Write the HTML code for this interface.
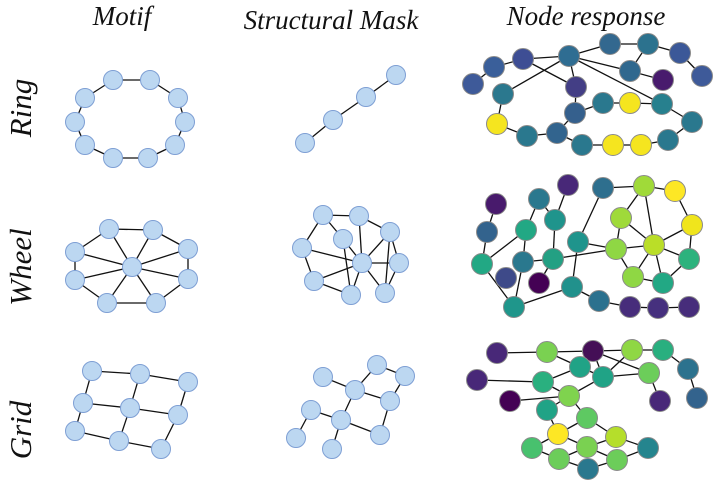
<!DOCTYPE html>
<html><head><meta charset="utf-8"><style>
html,body{margin:0;padding:0;background:#fff;width:720px;height:485px;overflow:hidden}
text{font-family:"Liberation Serif",serif;font-style:italic;fill:#111}
</style></head><body>
<svg id="s" width="720" height="485" viewBox="0 0 720 485" xmlns="http://www.w3.org/2000/svg">
<text x="122" y="25" font-size="27" text-anchor="middle">Motif</text>
<text x="331" y="29" font-size="27" text-anchor="middle">Structural Mask</text>
<text x="586" y="25" font-size="27" text-anchor="middle">Node response</text>
<text transform="translate(31,108) rotate(-90)" font-size="31" text-anchor="middle">Ring</text>
<text transform="translate(31,267) rotate(-90)" font-size="31" text-anchor="middle">Wheel</text>
<text transform="translate(31,430) rotate(-90)" font-size="31" text-anchor="middle">Grid</text>
<g id="e" stroke="#111" stroke-width="1.3"></g>
<g id="n"></g>
</svg>
<script>
var E=document.getElementById('e'),N=document.getElementById('n'),ns='http://www.w3.org/2000/svg';
var LB='#bcd7f1',LS='#7e9fd4';
function g(nodes,edges,r,stroke){
 edges.forEach(function(p){var a=nodes[p[0]],b=nodes[p[1]];var l=document.createElementNS(ns,'line');
 l.setAttribute('x1',a[0]);l.setAttribute('y1',a[1]);l.setAttribute('x2',b[0]);l.setAttribute('y2',b[1]);E.appendChild(l);});
 Object.keys(nodes).forEach(function(k){var a=nodes[k];var c=document.createElementNS(ns,'circle');
 c.setAttribute('cx',a[0]);c.setAttribute('cy',a[1]);c.setAttribute('r',r);c.setAttribute('fill',a[2]||LB);
 c.setAttribute('stroke',stroke);c.setAttribute('stroke-width','1');N.appendChild(c);});
}
function ring(n){var e=[];for(var i=0;i<n;i++)e.push([i,(i+1)%n]);return e;}
g([[113,80],[150,80],[178,98],[185,122],[175,145],[148,158],[113,158],[85,145],[75,122],[85,98]],ring(10),9.5,LS);
g([[305,143],[333,120],[366,97],[396,75]],[[0,1],[1,2],[2,3]],9.5,LS);
var w=[[109,229],[153,230],[188,249],[188,279],[156,303],[107,303],[75,280],[75,252],[132,267]];
var we=ring(8);for(var i=0;i<8;i++)we.push([i,8]);g(w,we,9.5,LS);
g([[92,371],[140,374],[188,382],[83,403],[130,408],[178,415],[75,431],[119,441],[161,449]],
 [[0,1],[1,2],[3,4],[4,5],[6,7],[7,8],[0,3],[3,6],[1,4],[4,7],[2,5],[5,8]],9.5,LS);
g([[323,215],[359,216],[390,232],[399,263],[385,293],[351,295],[314,281],[302,248],[343,239],[362,263]],
 [[0,1],[1,2],[0,8],[0,7],[7,6],[6,5],[7,9],[6,9],[1,9],[2,9],[2,3],[2,4],[3,9],[3,4],[4,9],[5,9],[8,5],[8,9]],9.5,LS);
g([[323,377],[377,365],[405,376],[355,390],[390,401],[311,410],[341,420],[380,435],[296,438],[332,449]],
 [[0,3],[3,1],[1,2],[2,4],[3,4],[3,6],[4,7],[6,7],[5,6],[5,8],[6,9]],9.5,LS);
var NS='#8a8a8a';
var Y='#f5e51f';
var rr={a:[473,84,'#3e5a99'],b:[494,67,'#3a5f9a'],c:[523,59,'#3e4e94'],d:[569,56,'#2f6d92'],e:[610,44,'#33688f'],f:[648,44,'#2c728e'],g:[680,53,'#3b5898'],h:[702,76,'#3e5a99'],i:[630,71,'#30688e'],j:[663,80,'#481b6d'],k:[576,87,'#433e85'],l:[503,94,'#2b788e'],m:[497,124,Y],n:[527,136,'#2a788e'],o:[557,133,'#32648e'],p:[575,113,'#35608d'],q:[603,103,'#2a788e'],r:[630,103,Y],s:[662,104,'#27808e'],t:[692,122,'#2a788e'],u:[668,140,'#2a788e'],v:[641,145,Y],w:[613,145,Y],x:[582,145,'#2a788e']};
function pe(s){return s.split(' ').map(function(p){return p.split('-');});}
g(rr,pe('a-b b-c c-d d-e e-f f-g g-h f-i i-j d-i d-k c-k d-l d-s k-p l-m m-n n-o o-p o-x p-q q-r r-s s-t t-u u-v v-w w-x'),10.5,NS);
var wr={A:[496,204,'#481a6c'],B:[487,232,'#33638d'],C:[482,264,'#22a884'],D:[526,230,'#22a884'],E:[523,262,'#2a788e'],F:[506,278,'#3e4a89'],G:[539,199,'#2a788e'],H:[568,185,'#482878'],I:[555,220,'#1f948c'],J:[553,259,'#23a083'],K:[539,283,'#440154'],L:[578,242,'#1f948c'],M:[603,188,'#2e6f8e'],N:[572,287,'#21918c'],O:[514,307,'#1f968b'],P:[599,301,'#2c718e'],Q:[630,307,'#472d7b'],R:[658,308,'#46307e'],S:[689,307,'#472d7b'],T:[644,186,'#a0da39'],U:[675,191,'#fde725'],V:[621,218,'#9fda3a'],W:[692,225,'#f0e51c'],X:[654,245,'#bade28'],Yy:[616,249,'#8fd744'],Z:[689,259,'#2db27d'],AA:[633,277,'#8fd744'],AB:[663,283,'#22a884']};
g(wr,pe('A-B B-C C-D C-O D-G D-E E-O E-J G-I H-I I-J J-K J-Yy L-Yy L-N L-M N-O N-P P-Q Q-R R-S T-V T-X T-U U-W W-X W-Z Z-X Z-AB AB-AA AB-X AA-X AA-Yy Yy-X V-Yy V-X M-T'),10.5,NS);
var gr={a:[497,353,'#482878'],b:[547,352,'#7ad151'],c:[593,351,'#440f56'],d:[632,350,'#8fd744'],e:[663,350,'#29af7f'],f:[688,369,'#2c728e'],g:[697,398,'#33638d'],h:[580,367,'#20a386'],i:[603,377,'#20a386'],j:[649,373,'#6ccd5a'],k:[477,380,'#482878'],l:[543,382,'#2ab07f'],m:[569,396,'#7fd34e'],n:[510,401,'#440154'],o:[660,401,'#482878'],p:[547,410,'#20a386'],q:[587,418,'#5ec962'],r:[558,434,'#fde725'],s:[616,437,'#b5de2b'],t:[532,448,'#48c16e'],u:[587,447,'#7ad151'],v:[648,448,'#25858e'],w:[559,459,'#6ccd5a'],x:[617,460,'#6ccd5a'],y:[588,469,'#2a788e']};
g(gr,pe('a-b b-c c-d d-e e-f f-g b-h c-h c-i c-j d-i h-l h-i i-j j-o k-l l-m m-i n-m m-p q-r q-s p-r r-t r-u s-u s-v t-w u-w u-x x-v w-y y-x m-q'),10.5,NS);
</script>
</body></html>
